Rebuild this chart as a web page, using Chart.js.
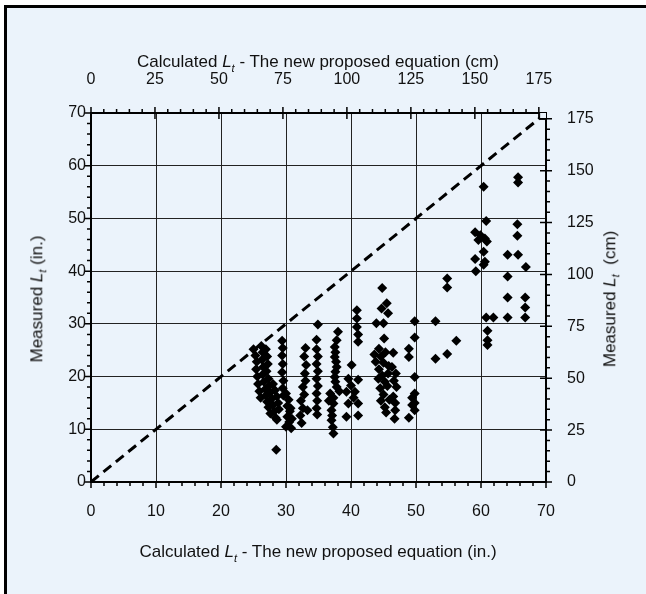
<!DOCTYPE html>
<html>
<head>
<meta charset="utf-8">
<script src="https://cdn.jsdelivr.net/npm/chart.js@4.4.0/dist/chart.umd.min.js"></script>
<style>
  html, body { margin: 0; padding: 0; background: #fff; }
  #frame {
    position: absolute; left: 4px; top: 5px; width: 642px; height: 589px;
    box-sizing: border-box; background: #ebf3fb;
    border-left: 3px solid #000; border-top: 3px solid #000;
  }
  #wrap { position: absolute; left: 0; top: 0; width: 646px; height: 594px; }
  .axis-title {
    position: absolute; white-space: nowrap; color: #111;
    font: 17px 'Liberation Sans', Arial, sans-serif;
    transform: translate(-50%, -50%);
  }
  .axis-title.vertical { transform: translate(-50%, -50%) rotate(-90deg); }
  .axis-title sub { font-size: 11px; }
</style>
</head>
<body>
<div id="frame"></div>
<div id="wrap"><canvas id="lt-chart"></canvas></div>
<div class="axis-title" style="left:318px; top:63px;">Calculated <i>L</i><sub><i>t</i></sub> - The new proposed equation (cm)</div>
<div class="axis-title" style="left:318px; top:553px;">Calculated <i>L</i><sub><i>t</i></sub> - The new proposed equation (in.)</div>
<div class="axis-title vertical" style="left:38px; top:299px;">Measured <i>L</i><sub><i>t</i></sub> (in.)</div>
<div class="axis-title vertical" style="left:611px; top:299px;">Measured <i>L</i><sub><i>t</i></sub>&nbsp; (cm)</div>

<script>
// Axis ranges and tick labels
const inchTicks = [0, 10, 20, 30, 40, 50, 60, 70];
const cmTicks = [0, 25, 50, 75, 100, 125, 150, 175];
const inchMax = 70;
const cmPerInch = 2.54;

// Line of equality, calculated = measured
const equalityLine = [[0, 0], [70, 70]];

// Specimens as [calculated, measured], both in inches, grouped by column
const band25 = [
  [25.0, 25.2], [25.3, 24.0], [25.5, 22.8], [25.4, 21.4], [25.6, 20.0], [25.7, 18.6], [25.9, 17.2], [26.1, 16.0],
  [26.2, 25.8], [26.4, 24.6], [26.3, 23.2], [26.5, 21.8], [26.4, 20.4], [26.6, 19.0], [26.8, 17.6], [26.9, 16.4],
  [27.1, 15.2], [27.3, 14.2], [26.9, 25.2], [27.1, 23.8], [27.2, 22.4], [27.0, 21.0], [27.3, 19.6], [27.4, 18.2],
  [27.6, 17.0], [27.8, 15.8], [28.0, 14.6], [28.2, 13.4], [28.4, 12.2], [28.0, 18.6], [28.3, 17.4], [28.6, 16.2],
  [28.8, 15.0], [28.9, 13.8], [28.6, 11.8], [27.6, 13.0], [28.5, 6.1]
];
const band30 = [
  [29.4, 26.8], [29.5, 25.4], [29.4, 24.0], [29.5, 22.4], [29.4, 20.8], [29.6, 19.2], [29.5, 17.8], [29.6, 16.4],
  [30.0, 16.8], [30.4, 15.6], [30.2, 14.4], [30.6, 13.4], [30.2, 12.4], [30.5, 11.4], [30.0, 10.5], [30.8, 10.2],
  [30.9, 12.0], [30.7, 14.0]
];
const band33 = [
  [33.0, 25.4], [32.8, 23.8], [33.1, 22.2], [32.9, 20.6], [33.0, 19.2], [32.6, 18.0], [32.8, 16.6], [32.3, 15.4],
  [32.6, 14.0], [32.2, 12.6], [32.4, 11.2], [33.3, 13.6],
  [34.9, 29.9], [34.7, 27.0], [34.7, 25.2], [34.9, 23.8], [34.7, 22.4], [34.9, 21.0], [34.7, 19.6], [34.9, 18.2],
  [34.7, 16.8], [34.8, 15.4], [34.7, 14.0], [34.8, 12.8]
];
const band37 = [
  [38.0, 28.5], [37.8, 26.9], [37.5, 25.6], [37.5, 23.7], [37.8, 21.8], [37.5, 19.9], [37.8, 18.0], [36.8, 16.8],
  [37.3, 14.9], [37.0, 13.6], [37.0, 11.7], [37.3, 9.2], [37.6, 24.6], [37.7, 22.8], [37.6, 20.9], [37.6, 19.0],
  [37.3, 16.0], [36.6, 15.4], [37.1, 12.6], [37.2, 10.4], [38.2, 17.2]
];
const band40 = [
  [40.1, 22.2], [39.6, 19.6], [41.1, 19.4], [39.3, 17.1], [40.6, 17.1], [39.6, 14.9], [41.1, 14.9], [39.3, 12.4],
  [41.1, 12.6], [40.4, 16.0], [40.0, 18.3],
  [40.9, 32.6], [40.9, 31.0], [40.9, 29.4], [41.1, 28.0], [41.1, 26.6]
];
const band45 = [
  [44.8, 36.8], [45.5, 33.9], [44.7, 32.9], [45.7, 32.0], [43.9, 30.1], [45.0, 30.1], [45.1, 27.2],
  [43.6, 24.2], [43.8, 22.8], [44.3, 25.3], [44.6, 23.8], [45.0, 22.6], [44.3, 21.4], [44.8, 20.2], [45.2, 19.0],
  [44.5, 17.8], [45.0, 16.6], [44.6, 15.4], [45.2, 14.2], [45.4, 13.2], [45.8, 22.0], [45.6, 18.2], [44.2, 19.6],
  [45.3, 24.6], [45.7, 20.6], [45.9, 15.6],
  [46.5, 24.5], [46.3, 21.8], [46.9, 20.6], [46.6, 19.2], [47.0, 18.0], [46.5, 16.2], [46.8, 15.0], [46.8, 13.6],
  [46.7, 12.0]
];
const band50 = [
  [49.8, 30.5], [49.8, 27.4], [48.9, 25.3], [48.9, 23.7], [49.8, 19.9], [49.8, 16.8], [49.4, 16.0], [49.8, 15.0],
  [49.8, 13.6], [48.9, 12.2], [49.4, 14.6],
  [53.0, 30.5], [53.0, 23.4], [54.8, 24.3], [56.2, 26.8], [54.8, 38.6], [54.8, 36.9]
];
const band60 = [
  [60.4, 56.0], [60.8, 49.5], [59.1, 47.4], [59.9, 46.8], [59.6, 45.9], [60.6, 46.2], [60.9, 45.6], [60.4, 43.7],
  [59.1, 42.3], [60.6, 41.8], [60.4, 41.2], [59.2, 40.0], [60.8, 31.2], [61.9, 31.2], [61.0, 28.7], [61.0, 26.9],
  [61.0, 26.0]
];
const band65 = [
  [65.7, 57.8], [65.7, 56.8], [65.6, 48.9], [65.6, 46.7], [64.1, 43.1], [65.7, 43.1], [66.9, 40.8], [64.1, 39.0],
  [64.1, 35.0], [66.8, 35.0], [66.8, 33.1], [64.1, 31.2], [66.8, 31.2]
];

const specimens = [].concat(band25, band30, band33, band37, band40, band45, band50, band60, band65);
const toPoint = ([x, y]) => ({ x: x, y: y });

const bg = '#ebf3fb';
const tickFont = { family: "'Liberation Sans', Arial, sans-serif", size: 16 };
const gridColor = (ctx) =>
  ctx.tick && (ctx.tick.value === 0 || ctx.tick.value === inchMax) ? 'rgba(0,0,0,0)' : '#222';

// Chart.js draws one tick length only, so all tick marks are drawn here:
// 2 in. steps on the inch axes, 5 cm steps on the cm axes
const tickMarks = {
  id: 'tickMarks',
  afterDraw(chart) {
    const { ctx, scales } = chart;
    ctx.save();
    ctx.strokeStyle = '#000';
    ctx.lineWidth = 1.5;
    ctx.beginPath();
    for (let v = 0; v <= inchMax; v += 2) {
      const len = v % 10 === 0 ? 6 : 4;
      const px = scales.x.getPixelForValue(v);
      ctx.moveTo(px, scales.x.top);
      ctx.lineTo(px, scales.x.top + len);
      const py = scales.y.getPixelForValue(v);
      ctx.moveTo(scales.y.right, py);
      ctx.lineTo(scales.y.right - len, py);
    }
    for (let v = 0; v <= cmTicks[cmTicks.length - 1]; v += 5) {
      const major = v % 25 === 0;
      const len = major ? 6 : 4;
      const inner = major ? 6 : 0;
      const px = scales.x2.getPixelForValue(v);
      ctx.moveTo(px, scales.x2.bottom + inner);
      ctx.lineTo(px, scales.x2.bottom - len);
      const py = scales.y2.getPixelForValue(v);
      ctx.moveTo(scales.y2.left - inner, py);
      ctx.lineTo(scales.y2.left + len, py);
    }
    ctx.stroke();
    ctx.restore();
  },
};

function fixedTicks(values) {
  return (scale) => {
    scale.ticks = values.map((v) => ({ value: v }));
  };
}

const labelOpts = (padding) => ({
  padding: padding,
  color: '#111',
  font: tickFont,
  autoSkip: false,
  maxRotation: 0,
});

new Chart(document.getElementById('lt-chart'), {
  data: {
    datasets: [
      {
        type: 'scatter',
        label: 'Specimens',
        data: specimens.map(toPoint),
        pointStyle: 'rectRot',
        pointRadius: 5,
        backgroundColor: '#000',
        borderColor: '#000',
        borderWidth: 0,
      },
      {
        type: 'line',
        label: 'Equality',
        data: equalityLine.map(toPoint),
        borderColor: '#000',
        borderWidth: 3,
        borderDash: [10, 6],
        pointRadius: [0, 9],
        pointStyle: 'rect',
        pointBackgroundColor: bg,
        pointBorderColor: '#000',
        pointBorderWidth: 1,
      },
    ],
  },
  options: {
    responsive: true,
    maintainAspectRatio: false,
    animation: false,
    events: [],
    layout: { padding: 0 },
    plugins: {
      legend: { display: false },
      tooltip: { enabled: false },
    },
    scales: {
      x: {
        type: 'linear', position: 'bottom', min: 0, max: inchMax,
        afterBuildTicks: fixedTicks(inchTicks),
        afterFit: (s) => { s.height = 112; },
        grid: { color: gridColor, lineWidth: 1, drawTicks: false },
        border: { color: '#000', width: 2 },
        ticks: labelOpts(20),
      },
      x2: {
        type: 'linear', position: 'top', min: 0, max: inchMax * cmPerInch,
        afterBuildTicks: fixedTicks(cmTicks),
        afterFit: (s) => { s.height = 113; },
        grid: { display: false },
        border: { color: '#000', width: 2 },
        ticks: labelOpts(16),
      },
      y: {
        type: 'linear', position: 'left', min: 0, max: inchMax,
        afterBuildTicks: fixedTicks(inchTicks),
        afterFit: (s) => { s.width = 91; },
        grid: { color: gridColor, lineWidth: 1, drawTicks: false },
        border: { color: '#000', width: 2 },
        ticks: labelOpts(5),
      },
      y2: {
        type: 'linear', position: 'right', min: 0, max: inchMax * cmPerInch,
        afterBuildTicks: fixedTicks(cmTicks),
        afterFit: (s) => { s.width = 100; },
        grid: { display: false },
        border: { color: '#000', width: 2 },
        ticks: labelOpts(13),
      },
    },
  },
  plugins: [tickMarks],
});
</script>
</body>
</html>
